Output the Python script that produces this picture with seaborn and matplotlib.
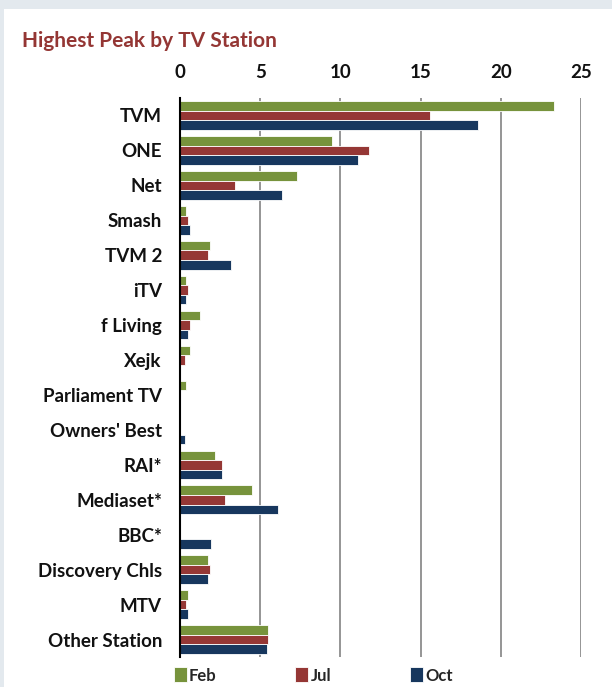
import matplotlib
matplotlib.use("Agg")
import matplotlib.pyplot as plt
import seaborn as sns
import pandas as pd
from matplotlib.patches import Rectangle

stations = ["TVM", "ONE", "Net", "Smash", "TVM 2", "iTV", "f Living", "Xejk",
            "Parliament TV", "Owners' Best", "RAI*", "Mediaset*", "BBC*",
            "Discovery Chls", "MTV", "Other Station"]
feb = [23.3, 9.5, 7.3, 0.4, 1.9, 0.4, 1.25, 0.65, 0.4, 0.0, 2.2, 4.5, 0.0, 1.75, 0.5, 5.5]
jul = [15.6, 11.8, 3.4, 0.5, 1.75, 0.5, 0.65, 0.3, 0.0, 0.0, 2.6, 2.8, 0.0, 1.85, 0.4, 5.5]
octo = [18.6, 11.1, 6.35, 0.65, 3.2, 0.4, 0.5, 0.0, 0.0, 0.3, 2.6, 6.1, 1.95, 1.75, 0.5, 5.4]
months = ["Feb", "Jul", "Oct"]
xticks = [0, 5, 10, 15, 20, 25]

df = pd.DataFrame({
    "Station": stations * 3,
    "Month": ["Feb"] * len(stations) + ["Jul"] * len(stations) + ["Oct"] * len(stations),
    "Value": feb + jul + octo,
})

sns.set_theme(style="white")
plt.rcParams["font.family"] = ["Lato", "DejaVu Sans"]

palette = {"Feb": "#77933C", "Jul": "#953735", "Oct": "#17375E"}

fig = plt.figure(figsize=(6.12, 6.87), dpi=100, facecolor="#e3e9ee")
fig.patches.append(Rectangle((4 / 612, 0), 1, 1 - 9 / 687, transform=fig.transFigure,
                             facecolor="white", edgecolor="none", zorder=-10))
ax = fig.add_axes([180 / 612, 1 - 657 / 687, (581 - 180) / 612, (657 - 98) / 687])
ax.set_facecolor("none")

sns.barplot(data=df, y="Station", x="Value", hue="Month", hue_order=months,
            order=stations, palette=palette, orient="h", width=0.82,
            edgecolor="white", linewidth=0.6, ax=ax, saturation=1, legend=True)

ax.set_xlim(0, 25)
ax.set_xticks(xticks)
ax.xaxis.set_ticks_position("top")
ax.xaxis.set_label_position("top")
ax.tick_params(axis="x", length=0, pad=12, labelsize=13.5)
ax.tick_params(axis="y", length=0, pad=13, labelsize=13.5)
for lbl in ax.get_xticklabels() + ax.get_yticklabels():
    lbl.set_fontweight("bold")
    lbl.set_color("#111111")
ax.set_xlabel("")
ax.set_ylabel("")
ax.grid(axis="x", color="#8c8c8c", linewidth=1.3)
ax.set_axisbelow(True)
for s in ["top", "right", "bottom"]:
    ax.spines[s].set_visible(False)
ax.spines["left"].set_color("black")
ax.spines["left"].set_linewidth(1.5)
ax.spines["left"].set_zorder(5)

handles, labels = ax.get_legend_handles_labels()
ax.get_legend().remove()
leg = fig.legend(handles, labels, loc="lower left", bbox_to_anchor=(162 / 612, -0.012),
                 ncol=3, frameon=False, handlelength=0.78, handleheight=1.0,
                 handletextpad=0.12, columnspacing=4.75, borderpad=0.2,
                 prop={"weight": "bold", "size": 12})

fig.text(22 / 612, 1 - 41 / 687, "Highest Peak by TV Station", color="#943634",
         fontsize=15, fontweight="bold", va="center", ha="left")

fig.savefig("out.png", dpi=100, facecolor=fig.get_facecolor())
